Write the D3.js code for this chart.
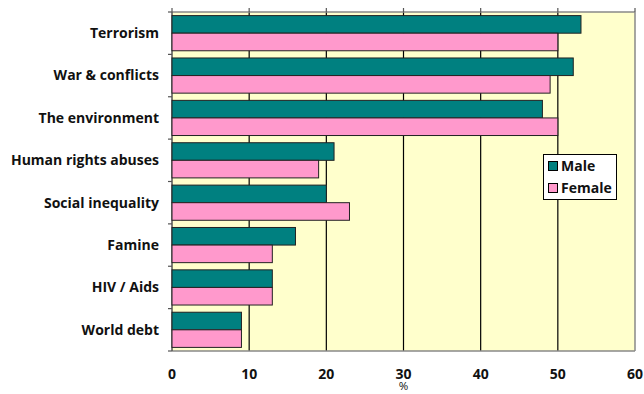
<!DOCTYPE html>
<html><head><meta charset="utf-8">
<script src="https://cdn.jsdelivr.net/npm/d3@7"></script>
<style>body{margin:0;background:#fff;}svg{display:block;}</style>
</head><body>
<svg id="c" width="644" height="394"></svg>
<script>
const categories = ["Terrorism","War & conflicts","The environment","Human rights abuses","Social inequality","Famine","HIV / Aids","World debt"];
const male = [53,52,48,21,20,16,13,9];
const female = [50,49,50,19,23,13,13,9];
const seriesNames = ["Male","Female"];
const xTicks = [0,10,20,30,40,50,60];
const axisTitle = "%";

const svg = d3.select("#c");
const L = 172, R = 635, T = 12, B = 351;
const font = "'Open Sans', Lato, sans-serif";
const x = d3.scaleLinear().domain([0,60]).range([L,R]);
const y = d3.scaleBand().domain(categories).range([T,B]).paddingInner(0.17).paddingOuter(0.085);
const ys = d3.scaleBand().domain(seriesNames).range([0,y.bandwidth()]);
const colors = {Male:"#008080", Female:"#FF99CC"};

svg.append("rect").attr("x",L).attr("y",T).attr("width",R-L).attr("height",B-T).attr("fill","#FFFFCC");
// gridlines
svg.append("g").selectAll("line").data(xTicks.slice(1,-1)).join("line")
  .attr("x1",d=>x(d)).attr("x2",d=>x(d)).attr("y1",T).attr("y2",B)
  .attr("stroke","#000").attr("stroke-width",1.2);
// borders
svg.append("line").attr("x1",L).attr("x2",R).attr("y1",T).attr("y2",T).attr("stroke","#888").attr("stroke-width",1.5);
svg.append("line").attr("x1",R).attr("x2",R).attr("y1",T).attr("y2",B).attr("stroke","#888").attr("stroke-width",1.5);
svg.append("line").attr("x1",L).attr("x2",R).attr("y1",B).attr("y2",B).attr("stroke","#888").attr("stroke-width",1.5);
svg.append("line").attr("x1",L).attr("x2",L).attr("y1",T).attr("y2",B).attr("stroke","#555").attr("stroke-width",1.5);
// top ticks
svg.append("g").selectAll("line").data(xTicks).join("line")
  .attr("x1",d=>x(d)).attr("x2",d=>x(d)).attr("y1",T-4).attr("y2",T)
  .attr("stroke","#555").attr("stroke-width",1.2);
// left ticks at band boundaries
const bounds = d3.range(categories.length+1).map(i=>T+i*(B-T)/categories.length);
svg.append("g").selectAll("line").data(bounds).join("line")
  .attr("x1",L-4).attr("x2",L).attr("y1",d=>d).attr("y2",d=>d)
  .attr("stroke","#555").attr("stroke-width",1.2);

const data = [];
categories.forEach((c,i)=>{data.push({c,s:"Male",v:male[i]});data.push({c,s:"Female",v:female[i]});});
svg.append("g").selectAll("rect").data(data).join("rect")
  .attr("x",x(0)).attr("y",d=>y(d.c)+ys(d.s)).attr("width",d=>x(d.v)-x(0)).attr("height",ys.bandwidth())
  .attr("fill",d=>colors[d.s]).attr("stroke","#222").attr("stroke-width",1);

// category labels
svg.append("g").selectAll("text").data(categories).join("text")
  .attr("x",159).attr("y",d=>y(d)+y.bandwidth()/2).attr("dy","0.35em")
  .attr("text-anchor","end").attr("font-family",font).attr("font-weight","bold").attr("font-size",14)
  .attr("fill","#111").text(d=>d);
// x tick labels
svg.append("g").selectAll("text").data(xTicks).join("text")
  .attr("x",d=>x(d)).attr("y",379).attr("text-anchor","middle")
  .attr("font-family",font).attr("font-weight","bold").attr("font-size",14).attr("fill","#111").text(d=>d);
svg.append("text").attr("x",x(30)).attr("y",390).attr("text-anchor","middle")
  .attr("font-family",font).attr("font-size",11.5).attr("fill","#111").text(axisTitle);

// legend
const lg = svg.append("g");
lg.append("rect").attr("x",543.5).attr("y",154.5).attr("width",73).attr("height",45).attr("fill","#fff").attr("stroke","#000").attr("stroke-width",1);
seriesNames.forEach((s,i)=>{
  lg.append("rect").attr("x",548.5).attr("y",161.5+i*22).attr("width",9).attr("height",9).attr("fill",colors[s]).attr("stroke","#000");
  lg.append("text").attr("x",561).attr("y",171+i*22).attr("font-family",font).attr("font-weight","bold").attr("font-size",14).attr("fill","#111").text(s);
});
</script>
</body></html>
